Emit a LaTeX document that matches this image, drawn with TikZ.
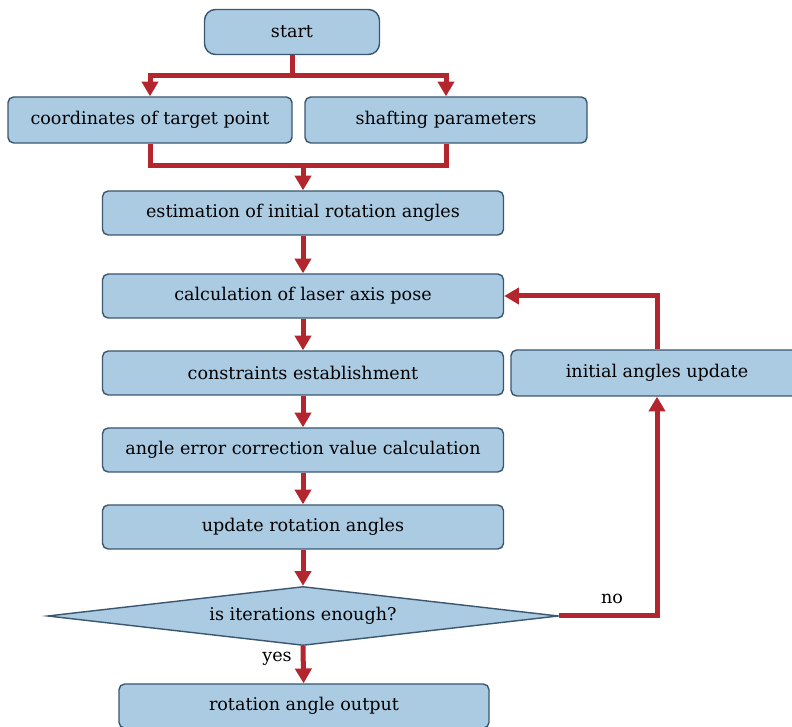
\documentclass[tikz,border=0pt]{standalone}
\usepackage{fontspec}
\setmainfont{DejaVu Serif}
\usepackage{tikz}
\definecolor{boxfill}{HTML}{ABCBE3}
\definecolor{boxline}{HTML}{3A5670}
\definecolor{flowred}{HTML}{B3262D}
\usetikzlibrary{arrows.meta,shapes.geometric}

\begin{document}
\begin{tikzpicture}[
      x=0.025cm, y=-0.025cm,
      box/.style={draw=boxline,fill=boxfill,line width=1pt,rounded corners=4pt,
        minimum height=44*0.025cm,inner sep=0pt,font=\fontsize{12.5}{14}\selectfont},
      pill/.style={box,rounded corners=11*0.025cm},
      decide/.style={draw=boxline,fill=boxfill,line width=1pt,diamond,aspect=8.6,
        inner sep=0pt,font=\fontsize{12.5}{14}\selectfont},
      flow/.style={draw=flowred,line width=5*0.025cm},
      flowarr/.style={flow,-{Triangle[width=11.5pt,length=10.5pt]}},
      lbl/.style={font=\fontsize{12.5}{14}\selectfont,inner sep=1pt},
    ]
    \def\cx{303}
    \def\bw{401*0.025cm}
    \useasboundingbox (0,0) rectangle (792,727);
    \node[pill,minimum width=175*0.025cm,minimum height=45*0.025cm] (start) at (292,32) {start};
    \node[box,minimum width=284*0.025cm,minimum height=46*0.025cm] (coord) at (150,120) {coordinates of target point};
    \node[box,minimum width=282*0.025cm,minimum height=46*0.025cm] (shaft) at (446,120) {shafting parameters};
    \node[box,minimum width=\bw] (estim) at (\cx,213) {estimation of initial rotation angles};
    \node[box,minimum width=\bw] (calc) at (\cx,296) {calculation of laser axis pose};
    \node[box,minimum width=\bw] (cons) at (\cx,373) {constraints establishment};
    \node[box,minimum width=\bw] (err) at (\cx,450) {angle error correction value calculation};
    \node[box,minimum width=\bw] (upd) at (\cx,527) {update rotation angles};
    \node[decide,minimum width=511*0.025cm,minimum height=59*0.025cm] (iter) at (\cx,616) {is iterations enough?};
    \node[box,minimum width=370*0.025cm] (out) at (304,706) {rotation angle output};
    \node[box,minimum width=292*0.025cm,minimum height=46*0.025cm] (init) at (657,373) {initial angles update};
    \node[lbl] (no) at (612,599) {no};
    \node[lbl] (yes) at (277,659) {yes};
    \coordinate (fork) at (292,76);
    \coordinate (merge) at (\cx,166);
    \draw[flow] (start.south) -- (fork);
    \draw[flowarr] (fork) -| (coord.north);
    \draw[flowarr] (fork) -| (shaft.north);
    \draw[flow] (coord.south) |- (merge);
    \draw[flow] (shaft.south) |- (merge);
    \draw[flowarr] (merge) -- (estim.north);
    \draw[flowarr] (estim) -- (calc);
    \draw[flowarr] (calc) -- (cons);
    \draw[flowarr] (cons) -- (err);
    \draw[flowarr] (err) -- (upd);
    \draw[flowarr] (upd) -- (iter.north);
    \draw[flowarr] (iter.south) -- (out);
    \draw[flowarr] (iter.east) -| (init.south);
    \draw[flowarr] (init.north) |- (calc.east);
  \end{tikzpicture}
\end{document}
